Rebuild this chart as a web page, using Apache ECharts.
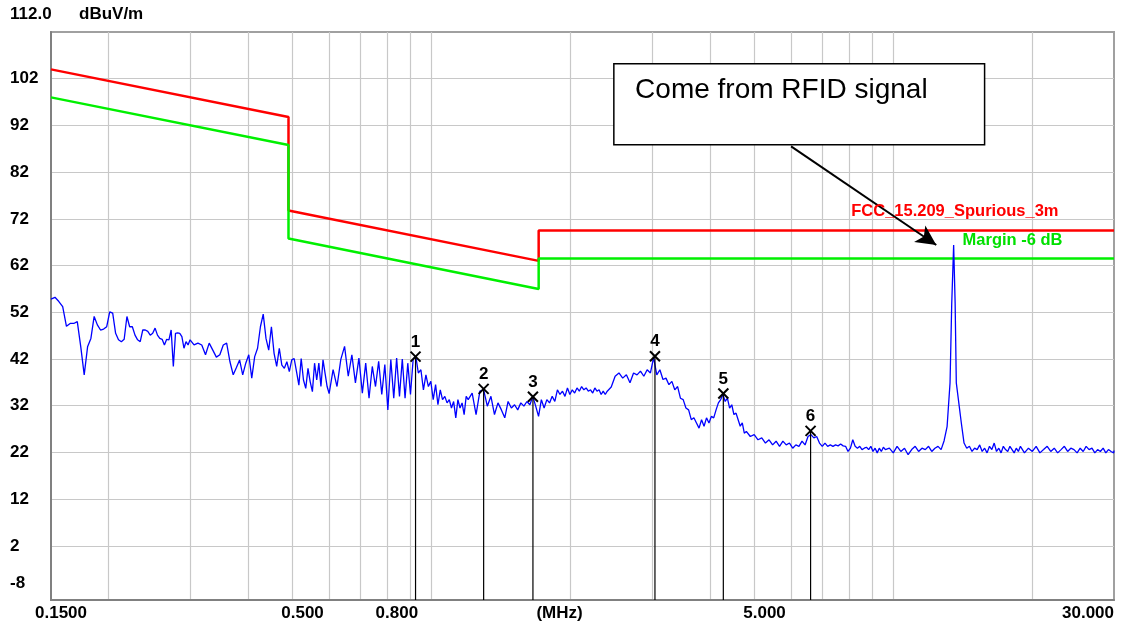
<!DOCTYPE html>
<html>
<head>
<meta charset="utf-8">
<script src="https://cdn.jsdelivr.net/npm/echarts@6/dist/echarts.min.js"></script>
<style>
html,body{margin:0;padding:0;background:#fff;}
#chart{width:1128px;height:626px;}
</style>
</head>
<body>
<div id="chart"></div>
<script>
// ---------- axis ticks / labels ----------
const xGridMHz = [0.2,0.3,0.4,0.5,0.6,0.7,0.8,0.9,1,2,3,4,5,6,7,8,9,10,20];
const xLabelMHz = [0.15,0.5,0.8,1.8,5,30];
const xLabelText = ['0.1500','0.500','0.800','(MHz)','5.000','30.000'];
const yGridLevels = [2,12,22,32,42,52,62,72,82,92,102];
const yLabelLevels = [-8,2,12,22,32,42,52,62,72,82,92,102];
const yMin = -9.6, yMax = 112;

// ---------- limit lines (dBuV/m) ----------
const fccFreq = [0.15,0.49,0.49,1.705,1.705,30];
const fccLevel = [104.0,93.8,73.8,63.0,69.5,69.5];
const marginFreq = [0.15,0.49,0.49,1.705,1.705,30];
const marginLevel = [98.0,87.8,67.8,57.0,63.5,63.5];

// ---------- measured scan (MHz / dBuV/m), by band ----------
const scanFreqA = [0.150,0.153,0.156,0.159,0.162,0.165,0.168,0.171,0.174,0.177,0.180,0.183,0.186,0.189,0.192,0.195,0.198,0.201,0.204,0.207,0.210,0.213,0.216,0.219,0.222,0.225,0.228,0.231,0.234,0.237,0.240,0.243,0.246,0.249,0.252,0.255,0.258,0.261,0.264,0.267,0.270,0.273,0.276,0.279,0.282,0.285,0.288,0.291,0.294,0.297];
const scanLevelA = [54.8,55.2,54.3,53.2,49.0,49.6,49.6,50.0,44.6,38.6,44.6,46.4,51.1,49.3,48.2,48.4,48.9,52.1,51.8,47.5,46.1,45.7,46.2,51.1,48.9,48.9,47.1,46.1,45.7,48.2,48.2,47.9,47.1,47.5,48.6,47.1,46.4,46.2,45.0,46.2,46.1,48.2,40.4,47.5,47.6,47.5,46.8,44.3,45.7,45.0];
const scanFreqB = [0.300,0.306,0.312,0.318,0.324,0.330,0.336,0.342,0.348,0.354,0.360,0.366,0.372,0.378,0.384,0.390,0.396,0.402,0.408,0.414,0.420,0.426,0.432,0.438,0.444,0.450,0.456,0.462,0.468,0.474,0.480,0.486,0.492,0.498,0.504,0.510,0.516,0.522,0.528,0.534,0.540,0.546,0.552,0.558,0.564,0.570,0.576,0.582,0.588,0.594];
const scanLevelB = [46.1,45.0,45.4,45.0,42.9,45.4,43.9,42.4,42.9,45.0,45.4,41.4,38.6,40.2,41.8,38.6,41.1,42.9,37.9,42.5,44.3,48.9,51.6,46.4,43.9,48.9,43.2,40.4,44.3,40.7,40.0,41.4,39.3,41.8,42.1,39.3,36.4,42.1,37.5,35.7,40.0,37.1,35.0,41.1,37.5,41.1,36.1,41.8,38.9,36.1];
const scanFreqC = [0.600,0.612,0.624,0.636,0.648,0.660,0.672,0.684,0.696,0.708,0.720,0.732,0.744,0.756,0.768,0.780,0.792,0.804,0.816,0.828,0.840,0.852,0.864,0.876,0.888,0.900,0.912,0.924,0.936,0.948,0.960,0.972,0.984,0.996,1.008,1.020,1.032,1.044,1.056,1.068,1.080,1.092,1.104,1.116,1.128,1.140,1.152,1.164,1.176,1.188];
const scanLevelC = [34.6,39.7,36.1,41.9,44.7,38.3,42.9,36.9,42.2,34.7,41.1,33.6,40.4,36.1,41.5,34.4,40.8,31.1,41.9,33.6,42.2,34.0,42.0,33.6,41.1,34.4,41.9,42.6,39.0,39.7,35.4,38.6,36.1,37.2,33.3,36.5,32.2,35.4,33.3,34.0,32.6,33.3,31.5,32.9,29.4,33.3,31.5,32.6,30.1,34.0];
const scanFreqD = [1.200,1.224,1.248,1.272,1.296,1.320,1.344,1.368,1.392,1.416,1.440,1.464,1.488,1.512,1.536,1.560,1.584,1.608,1.632,1.656,1.680,1.704,1.728,1.752,1.776,1.800,1.824,1.848,1.872,1.896,1.920,1.944,1.968,1.992,2.016,2.040,2.064,2.088,2.112,2.136,2.160,2.184,2.208,2.232,2.256,2.280,2.304,2.328,2.352,2.376];
const scanLevelD = [33.3,34.7,30.1,35.1,35.4,31.9,34.0,30.1,32.6,31.1,29.4,32.9,31.5,32.2,31.1,32.6,31.9,32.9,32.2,34.0,31.9,29.7,33.3,31.5,33.3,32.6,34.0,32.9,35.4,34.4,35.1,34.0,35.8,34.4,35.4,34.7,35.8,35.1,36.1,35.4,35.8,35.1,35.4,34.7,35.8,35.1,35.4,34.4,35.1,34.4];
const scanFreqE = [2.400,2.448,2.496,2.544,2.592,2.640,2.688,2.736,2.784,2.832,2.880,2.928,2.976,3.024,3.072,3.120,3.168,3.216,3.264,3.312,3.360,3.408,3.456,3.504,3.552,3.600,3.648,3.696,3.744,3.792,3.840,3.888,3.936,3.984,4.032,4.080,4.128,4.176,4.224,4.272,4.320,4.368,4.416,4.464,4.512,4.560,4.608,4.656,4.704,4.752];
const scanLevelE = [35.1,36.0,38.3,39.0,37.9,38.6,36.9,39.0,38.6,39.4,38.3,39.7,39.0,42.3,38.6,39.7,37.6,37.9,36.5,37.2,35.4,36.1,33.6,33.3,31.5,31.1,29.0,29.4,28.3,27.2,29.0,27.6,29.4,28.3,29.7,29.4,31.1,32.6,33.3,34.4,32.9,33.6,31.5,32.2,30.1,30.4,29.0,27.6,28.3,26.1];
const scanFreqF = [4.800,4.896,4.992,5.088,5.184,5.280,5.376,5.472,5.568,5.664,5.760,5.856,5.952,6.048,6.144,6.240,6.336,6.432,6.528,6.624,6.720,6.816,6.912,7.008,7.104,7.200,7.296,7.392,7.488,7.584,7.680,7.776,7.872,7.968,8.064,8.160,8.256,8.352,8.448,8.544,8.640,8.736,8.832,8.928,9.024,9.120,9.216,9.312,9.408,9.504];
const scanLevelF = [26.5,25.4,25.8,24.7,25.1,24.0,24.7,23.6,24.4,23.3,24.4,23.6,24.0,22.9,23.6,23.3,24.4,23.6,25.4,25.8,25.1,25.4,24.0,23.3,24.0,23.3,23.6,23.3,23.6,23.4,23.8,23.4,23.3,22.2,22.9,24.7,23.3,22.9,23.3,22.6,22.9,23.1,22.6,23.3,22.2,22.9,21.9,22.9,22.2,23.1];
const scanFreqG = [9.600,9.792,9.984,10.176,10.368,10.560,10.752,10.944,11.136,11.328,11.520,11.712,11.904,12.096,12.288,12.480,12.672,12.864,13.056,13.25,13.36,13.49,13.59,13.67,14.016,14.208,14.400,14.592,14.784,14.976,15.168,15.360,15.552,15.744,15.936,16.128,16.320,16.512,16.704,16.896,17.088,17.280,17.472,17.664,17.856,18.048,18.240,18.432,18.624,18.816,19.008];
const scanLevelG = [22.6,22.9,21.9,23.3,22.2,22.9,21.5,22.6,23.3,22.2,22.9,22.6,23.3,22.2,22.9,23.3,22.6,24.5,27.5,36.9,53.6,66.4,54.0,36.9,28.3,24.0,22.9,23.3,22.2,22.9,22.6,23.6,22.2,22.9,21.9,23.3,22.6,24.0,22.2,22.9,21.9,23.3,22.6,22.2,23.3,22.6,21.9,22.9,22.2,23.3,22.6];
const scanFreqH = [19.200,19.584,19.968,20.352,20.736,21.120,21.504,21.888,22.272,22.656,23.040,23.424,23.808,24.192,24.576,24.960,25.344,25.728,26.112,26.496,26.880,27.264,27.648,28.032,28.416,28.800,29.184,29.568,29.952,30.000];
const scanLevelH = [21.9,22.9,22.2,23.3,21.9,22.6,23.3,22.2,22.9,21.9,22.6,23.3,22.2,22.9,22.6,21.9,22.9,22.2,23.3,22.6,22.9,21.9,22.6,22.2,22.9,21.9,22.6,22.2,21.9,22.4];

// ---------- peak markers ----------
const markerNo = [1,2,3,4,5,6];
const markerFreq = [0.923,1.296,1.657,3.044,4.280,6.612];
const markerLevel = [42.5,35.6,33.9,42.6,34.6,26.6];

// ---------- annotation anchors (data space) ----------
const noteText = 'Come from RFID signal';
const noteBoxFreq = [2.48,15.74];
const noteBoxLevel = [105.2,87.85];
const noteArrowFreq = [6.0,12.37];
const noteArrowLevel = [87.5,66.4];

const FONT = '"Liberation Sans", Arial, Helvetica, sans-serif';

function zip(fs, ls){ const out=[]; const n=Math.min(fs.length, ls.length); for(let i=0;i<n;i++) out.push([fs[i], ls[i]]); return out; }

const scanData = [].concat(
  zip(scanFreqA, scanLevelA), zip(scanFreqB, scanLevelB), zip(scanFreqC, scanLevelC),
  zip(scanFreqD, scanLevelD), zip(scanFreqE, scanLevelE), zip(scanFreqF, scanLevelF),
  zip(scanFreqG, scanLevelG), zip(scanFreqH, scanLevelH));

const chart = echarts.init(document.getElementById('chart'), null, {renderer:'canvas'});

const axisTextStyle = {fontFamily: FONT, fontSize: 17, fontWeight: 'bold', color: '#000'};

const option = {
  animation: false,
  backgroundColor: '#ffffff',
  title: [
    {text: '112.0', left: 10, top: 6, padding: 0, textStyle: axisTextStyle},
    {text: 'dBuV/m', left: 79, top: 6, padding: 0, textStyle: axisTextStyle}
  ],
  grid: {left: 51, right: 14, top: 32, bottom: 26, show: true, borderColor: '#a0a0a0', borderWidth: 2, backgroundColor: '#ffffff', outerBoundsMode: 'none', containLabel: false},
  xAxis: {
    type: 'log', logBase: 10, min: 0.15, max: 30,
    axisLine: {show: true, onZero: false, lineStyle: {color: '#808080', width: 2}},
    axisTick: {show: false, customValues: xGridMHz},
    splitLine: {show: true, lineStyle: {color: '#c8c8c8', width: 1.2}},
    minorTick: {show: false}, minorSplitLine: {show: false},
    axisLabel: Object.assign({
      customValues: xLabelMHz,
      margin: 5,
      padding: [0,0,0,20],
      alignMaxLabel: 'right',
      formatter: function(v){
        let best = 0, bd = Infinity;
        for (let i=0;i<xLabelMHz.length;i++){ const d = Math.abs(Math.log(v/xLabelMHz[i])); if(d<bd){bd=d;best=i;} }
        return xLabelText[best];
      }
    }, axisTextStyle)
  },
  yAxis: {
    type: 'value', min: yMin, max: yMax,
    axisLine: {show: true, onZero: false, lineStyle: {color: '#808080', width: 2}},
    axisTick: {show: false, customValues: yGridLevels},
    splitLine: {show: true, lineStyle: {color: '#c8c8c8', width: 1.2}},
    axisLabel: Object.assign({
      customValues: yLabelLevels,
      align: 'left', margin: 41, lineHeight: 18,
      formatter: function(v){ const r = Math.round(v); return r === -8 ? '-8\n' : String(r); }
    }, axisTextStyle)
  },
  series: [
    {
      name: 'FCC_15.209_Spurious_3m', type: 'line', data: zip(fccFreq, fccLevel),
      symbol: 'none', silent: true, z: 2,
      lineStyle: {color: '#ff0000', width: 2.5}, itemStyle: {color: '#ff0000'},
      markPoint: {
        silent: true,
        data: [{coord: [fccFreq[fccFreq.length-1], fccLevel[fccLevel.length-1]], symbol: 'circle', symbolSize: 1,
          itemStyle: {color: 'rgba(0,0,0,0)'},
          label: {show: true, position: 'left', distance: 55, offset: [0,-19], formatter: 'FCC_15.209_Spurious_3m',
            color: '#ff0000', fontWeight: 'bold', fontSize: 16.5, fontFamily: FONT}}]
      }
    },
    {
      name: 'Margin -6 dB', type: 'line', data: zip(marginFreq, marginLevel),
      symbol: 'none', silent: true, z: 2,
      lineStyle: {color: '#00f000', width: 2.5}, itemStyle: {color: '#00f000'},
      markPoint: {
        silent: true,
        data: [{coord: [marginFreq[marginFreq.length-1], marginLevel[marginLevel.length-1]], symbol: 'circle', symbolSize: 1,
          itemStyle: {color: 'rgba(0,0,0,0)'},
          label: {show: true, position: 'left', distance: 51, offset: [0,-18], formatter: 'Margin -6 dB',
            color: '#00e000', fontWeight: 'bold', fontSize: 16.5, fontFamily: FONT}}]
      }
    },
    {
      name: 'Scan', type: 'line', data: scanData,
      symbol: 'none', silent: true, z: 3,
      lineStyle: {color: '#0000ff', width: 1.3}, itemStyle: {color: '#0000ff'},
      markArea: {
        silent: true,
        itemStyle: {color: '#ffffff', borderColor: '#000000', borderWidth: 1.5},
        label: {show: true, position: 'insideTopLeft', distance: 5, offset: [17,8], formatter: noteText,
          color: '#000', fontSize: 28, fontFamily: FONT, fontWeight: 'normal'},
        data: [[{coord: [noteBoxFreq[0], noteBoxLevel[0]]}, {coord: [noteBoxFreq[1], noteBoxLevel[1]]}]]
      },
      markLine: {
        silent: true, symbol: ['none','arrow'], symbolSize: [15, 20],
        lineStyle: {color: '#000', width: 2, type: 'solid'},
        label: {show: false},
        data: [[{coord: [noteArrowFreq[0], noteArrowLevel[0]]}, {coord: [noteArrowFreq[1], noteArrowLevel[1]]}]]
      }
    },
    {
      name: 'Markers', type: 'custom', silent: true, z: 5,
      data: markerFreq.map((f,i)=>[f, markerLevel[i], markerNo[i]]),
      renderItem: function(params, api){
        const p = api.coord([api.value(0), api.value(1)]);
        const b = api.coord([api.value(0), yMin]);
        const s = 5;
        return {type: 'group', children: [
          {type: 'line', shape: {x1: p[0], y1: p[1], x2: b[0], y2: b[1]}, style: {stroke: '#000', lineWidth: 1.2}},
          {type: 'line', shape: {x1: p[0]-s, y1: p[1]-s, x2: p[0]+s, y2: p[1]+s}, style: {stroke: '#000', lineWidth: 2}},
          {type: 'line', shape: {x1: p[0]-s, y1: p[1]+s, x2: p[0]+s, y2: p[1]-s}, style: {stroke: '#000', lineWidth: 2}},
          {type: 'text', style: {text: String(api.value(2)), x: p[0], y: p[1]-s-1, align: 'center', verticalAlign: 'bottom',
            font: 'bold 17px ' + FONT, fill: '#000'}}
        ]};
      }
    }
  ]
};
chart.setOption(option);
</script>
</body>
</html>
